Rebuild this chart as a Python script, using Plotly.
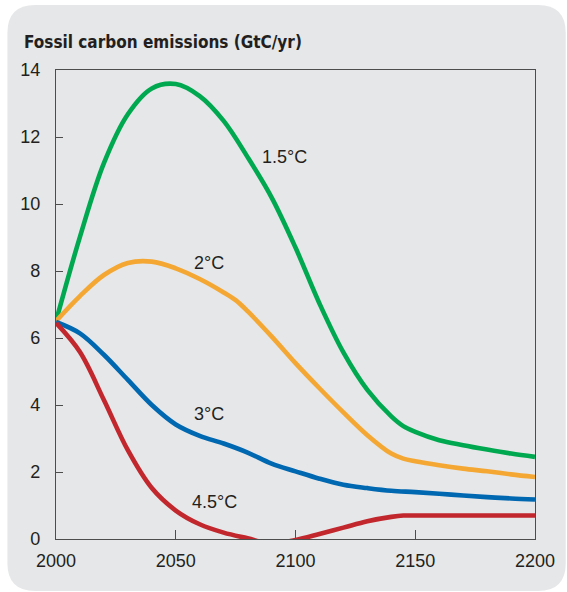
import plotly.graph_objects as go

# ---- data ----
green_years = [2000, 2010, 2020, 2030, 2040, 2050, 2060, 2070, 2080, 2090, 2100, 2110, 2120, 2130, 2140, 2145, 2150, 2160, 2170, 2180, 2190, 2200]
green_vals = [6.5, 9.02, 11.22, 12.68, 13.45, 13.58, 13.22, 12.48, 11.4, 10.2, 8.7, 7.03, 5.57, 4.45, 3.66, 3.37, 3.2, 2.95, 2.8, 2.67, 2.55, 2.45]

orange_years = [2000, 2010, 2020, 2030, 2040, 2050, 2060, 2070, 2075, 2080, 2090, 2100, 2110, 2120, 2130, 2140, 2145, 2150, 2160, 2170, 2180, 2190, 2200]
orange_vals = [6.5, 7.25, 7.88, 8.24, 8.28, 8.08, 7.76, 7.36, 7.13, 6.8, 6.05, 5.25, 4.5, 3.78, 3.1, 2.55, 2.4, 2.32, 2.2, 2.1, 2.02, 1.93, 1.85]

blue_years = [2000, 2010, 2020, 2030, 2040, 2050, 2060, 2070, 2080, 2090, 2100, 2110, 2120, 2130, 2140, 2150, 2160, 2170, 2180, 2190, 2200]
blue_vals = [6.48, 6.14, 5.5, 4.75, 4.0, 3.42, 3.08, 2.85, 2.58, 2.25, 2.02, 1.8, 1.62, 1.52, 1.44, 1.4, 1.35, 1.3, 1.25, 1.21, 1.18]

red_years = [2000, 2010, 2020, 2030, 2040, 2050, 2060, 2070, 2080, 2090, 2100, 2110, 2120, 2130, 2140, 2145, 2150, 2160, 2170, 2180, 2190, 2200]
red_vals = [6.45, 5.58, 4.15, 2.65, 1.52, 0.85, 0.44, 0.19, 0.02, -0.14, -0.03, 0.15, 0.34, 0.53, 0.66, 0.7, 0.7, 0.7, 0.7, 0.7, 0.7, 0.7]

series_names = ["1.5°C", "2°C", "3°C", "4.5°C"]
label_x = [2095.5, 2063.8, 2063.9, 2066]
label_y = [11.4, 8.25, 3.72, 1.1]

x_ticks = [2000, 2050, 2100, 2150, 2200]
y_ticks = [0, 2, 4, 6, 8, 10, 12, 14]

colors = ["#00a94f", "#f5a733", "#0067b1", "#c1272d"]
FONT = "Liberation Sans, Arial, sans-serif"
TFONT = "DejaVu Sans Condensed, Liberation Sans, sans-serif"
GRAY = "#e6e7e8"
AXIS = "#4d4d4d"
TXT = "#231f20"

fig = go.Figure()
for xs, ys, c, n in zip([green_years, orange_years, blue_years, red_years],
                        [green_vals, orange_vals, blue_vals, red_vals], colors, series_names):
    fig.add_trace(go.Scatter(x=xs, y=ys, mode="lines", name=n,
                             line=dict(color=c, width=4.6, shape="spline", smoothing=1.0),
                             showlegend=False, hoverinfo="skip"))

for n, lx, ly in zip(series_names, label_x, label_y):
    fig.add_annotation(x=lx, y=ly, xref="x", yref="y", text=n, showarrow=False,
                       font=dict(family=FONT, size=18, color=TXT))

# panel background (rounded rectangle), pixel coords -> paper coords
L, R, T, B = 56, 28, 70, 53
W, H = 567, 592
pw, ph = W - L - R, H - T - B
def px(x):
    return (x - L) / pw
def py(y):
    return (H - B - y) / ph

x0, x1, y0, y1, r = 7, 570, 5, 591, 28
path = (f"M {px(x0 + r)},{py(y0)} L {px(x1 - r)},{py(y0)} Q {px(x1)},{py(y0)} {px(x1)},{py(y0 + r)} "
        f"L {px(x1)},{py(y1 - r)} Q {px(x1)},{py(y1)} {px(x1 - r)},{py(y1)} "
        f"L {px(x0 + r)},{py(y1)} Q {px(x0)},{py(y1)} {px(x0)},{py(y1 - r)} "
        f"L {px(x0)},{py(y0 + r)} Q {px(x0)},{py(y0)} {px(x0 + r)},{py(y0)} Z")
fig.add_shape(type="path", path=path, xref="paper", yref="paper",
              fillcolor=GRAY, line=dict(width=0), layer="below")

fig.add_annotation(x=px(22), y=py(42), xref="paper", yref="paper", xanchor="left", yanchor="middle",
                   text="<b>Fossil carbon emissions (GtC/yr)</b>", showarrow=False,
                   font=dict(family=TFONT, size=17, color=TXT))

fig.update_xaxes(range=[2000, 2200], tickvals=x_ticks, ticktext=[str(v) for v in x_ticks],
                 showgrid=False, zeroline=False, showline=True, mirror=True,
                 linecolor=AXIS, linewidth=1.4, ticks="inside", ticklen=9, tickwidth=1.4,
                 tickcolor=AXIS, layer="below traces", ticklabelstandoff=5,
                 tickfont=dict(family=FONT, size=18, color=TXT))
fig.update_yaxes(range=[0, 14], tickvals=y_ticks, ticktext=[str(v) for v in y_ticks],
                 showgrid=False, zeroline=False, showline=True, mirror=True,
                 linecolor=AXIS, linewidth=1.4, ticks="inside", ticklen=7, tickwidth=1.4,
                 tickcolor=AXIS, layer="below traces", ticklabelstandoff=11,
                 tickfont=dict(family=FONT, size=18, color=TXT))

fig.update_layout(width=W, height=H, margin=dict(l=L, r=R, t=T, b=B),
                  paper_bgcolor="white", plot_bgcolor="rgba(0,0,0,0)")

fig.write_html("out.html", config={"displayModeBar": False},
               post_script="document.body.style.margin='0';document.body.style.overflow='hidden';")
